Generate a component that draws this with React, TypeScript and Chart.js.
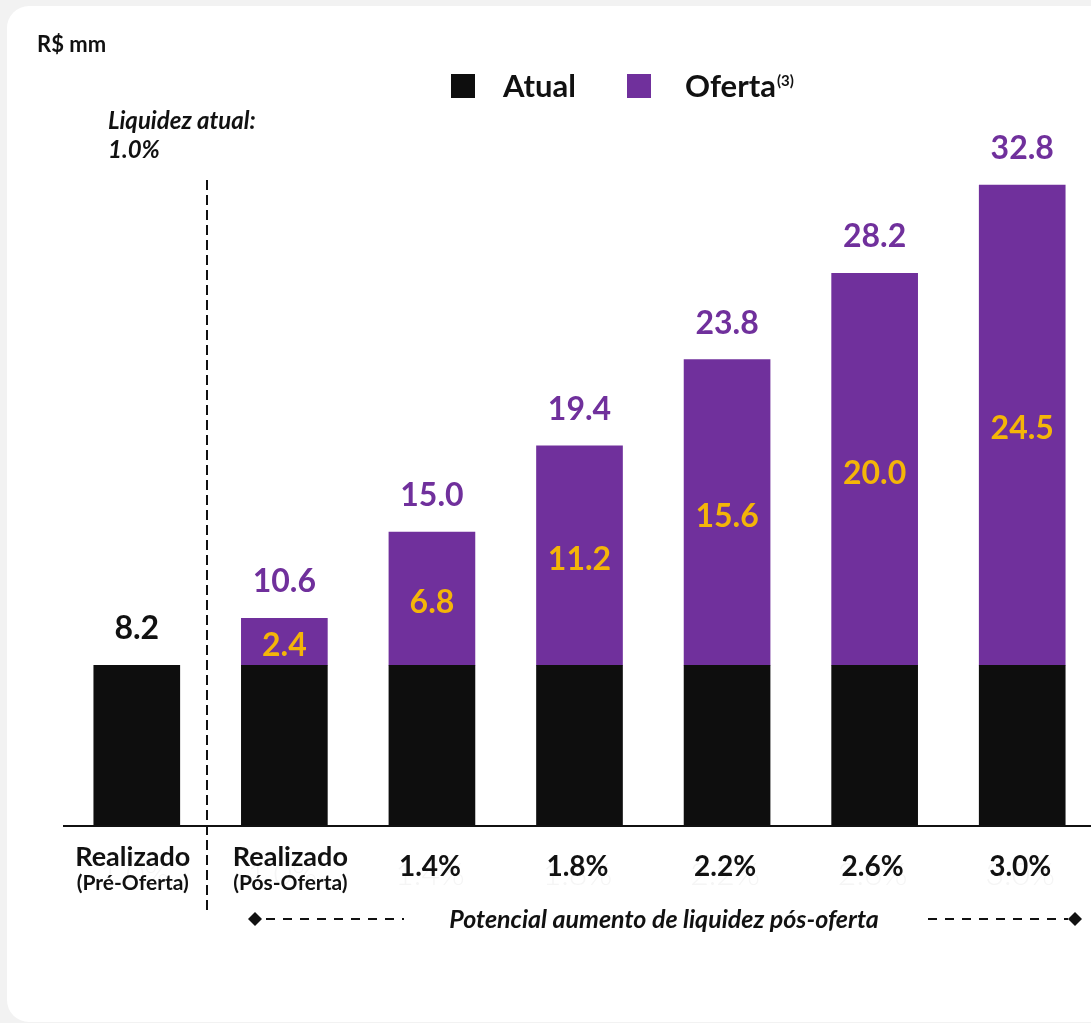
import React, { useEffect, useRef } from "react";
import { Chart, registerables } from "chart.js";

Chart.register(...registerables);

const categories = ["Realizado|(Pré-Oferta)", "Realizado|(Pós-Oferta)", "1.4%", "1.8%", "2.2%", "2.6%", "3.0%"];
const ghostLabels = ["1.0%", "1.0%", "1.4%", "1.8%", "2.2%", "2.6%", "3.0%"];
const atualValues = [8.2, 8.2, 8.2, 8.2, 8.2, 8.2, 8.2];
const ofertaValues: (number | null)[] = [null, 2.4, 6.8, 11.2, 15.6, 20.0, 24.5];
const totalLabels = ["8.2", "10.6", "15.0", "19.4", "23.8", "28.2", "32.8"];
const ofertaLabels = ["", "2.4", "6.8", "11.2", "15.6", "20.0", "24.5"];

const BLACK = "#0e0e0e";
const PURPLE = "#70309c";
const GOLD = "#f4b508";
const FONT = "Lato, 'Open Sans', sans-serif";

const W = 1120;
const H = 1023;

export default function App() {
  const ref = useRef<HTMLCanvasElement | null>(null);

  useEffect(() => {
    if (!ref.current) return;
    const overlay = {
      id: "overlay",
      afterDatasetsDraw(chart: any) {
        const { ctx, scales } = chart;
        const xs = scales.x;
        const ys = scales.y;
        const base = ys.getPixelForValue(0);
        ctx.save();
        // axis line
        ctx.fillStyle = "#111";
        ctx.fillRect(63, base - 1, W, 2);

        // dashed vertical separator
        const sepX = Math.round((xs.getPixelForValue(0) + xs.getPixelForValue(1)) / 2 - 4);
        ctx.strokeStyle = "#111";
        ctx.lineWidth = 2;
        ctx.setLineDash([10, 5]);
        ctx.beginPath();
        ctx.moveTo(sepX, 180);
        ctx.lineTo(sepX, 915);
        ctx.stroke();
        ctx.setLineDash([]);

        // ghost labels
        ctx.fillStyle = "#f5f5f5";
        ctx.font = `300 32px ${FONT}`;
        ctx.textAlign = "center";
        ctx.textBaseline = "alphabetic";
        ghostLabels.forEach((t, i) => {
          ctx.fillText(t, xs.getPixelForValue(i) - 2, 885);
        });

        // x labels
        ctx.fillStyle = "#111";
        categories.forEach((c, i) => {
          const cx = xs.getPixelForValue(i);
          const parts = c.split("|");
          if (parts.length === 2) {
            const off = i === 0 ? -4 : 6;
            ctx.font = `bold 27px ${FONT}`;
            ctx.fillText(parts[0], cx + off, 866);
            ctx.font = `bold 21px ${FONT}`;
            ctx.fillText(parts[1], cx + off, 890);
          } else {
            ctx.font = `bold 28px ${FONT}`;
            ctx.fillText(parts[0], cx - 2, 876);
          }
        });

        // value labels
        const metaA = chart.getDatasetMeta(0);
        const metaO = chart.getDatasetMeta(1);
        ctx.font = `bold 32px ${FONT}`;
        totalLabels.forEach((t, i) => {
          const hasO = ofertaValues[i] != null;
          const el = hasO ? metaO.data[i] : metaA.data[i];
          ctx.fillStyle = hasO ? PURPLE : "#111";
          ctx.textBaseline = "alphabetic";
          ctx.fillText(t, el.x, el.y - 26);
        });
        ctx.fillStyle = GOLD;
        ctx.textBaseline = "middle";
        ofertaLabels.forEach((t, i) => {
          if (!t) return;
          const el = metaO.data[i];
          ctx.fillText(t, el.x, (el.y + el.base) / 2 + 4);
        });

        // legend
        ctx.textBaseline = "alphabetic";
        ctx.textAlign = "left";
        ctx.fillStyle = BLACK;
        ctx.fillRect(451, 74, 24, 24);
        ctx.fillStyle = PURPLE;
        ctx.fillRect(627, 74, 24, 24);
        ctx.fillStyle = "#111";
        ctx.font = `bold 31px ${FONT}`;
        ctx.fillText("Atual", 503, 97);
        ctx.fillText("Oferta", 685, 97);
        const ow = ctx.measureText("Oferta").width;
        ctx.font = `bold 15px ${FONT}`;
        ctx.fillText("(3)", 685 + ow + 1, 86);

        // unit
        ctx.font = `bold 22px ${FONT}`;
        ctx.fillText("R$ mm", 37, 52);

        // liquidez atual
        ctx.font = `italic bold 24px ${FONT}`;
        ctx.fillText("Liquidez atual:", 108, 129);
        ctx.fillText("1.0%", 108, 158);

        // bottom annotation
        const ay = 919;
        const diamond = (dx: number) => {
          ctx.beginPath();
          ctx.moveTo(dx, ay - 7);
          ctx.lineTo(dx + 7, ay);
          ctx.lineTo(dx, ay + 7);
          ctx.lineTo(dx - 7, ay);
          ctx.closePath();
          ctx.fill();
        };
        diamond(255);
        diamond(1075);
        ctx.setLineDash([9, 8]);
        ctx.beginPath();
        ctx.moveTo(266, ay);
        ctx.lineTo(404, ay);
        ctx.moveTo(928, ay);
        ctx.lineTo(1068, ay);
        ctx.stroke();
        ctx.setLineDash([]);
        ctx.font = `italic bold 25px ${FONT}`;
        ctx.textAlign = "center";
        ctx.fillText("Potencial aumento de liquidez pós-oferta", 664, 928);
        ctx.restore();
      },
    };

    const chart = new Chart(ref.current, {
      type: "bar",
      data: {
        labels: categories,
        datasets: [
          {
            label: "Atual",
            data: atualValues,
            backgroundColor: BLACK,
            barThickness: 86,
            borderWidth: 0,
          },
          {
            label: "Oferta",
            data: ofertaValues,
            backgroundColor: PURPLE,
            barThickness: 86,
            borderWidth: 0,
          },
        ],
      },
      options: {
        responsive: false,
        animation: false,
        devicePixelRatio: 1,
        layout: { padding: { left: 63, right: 24, top: 42, bottom: 197 } },
        plugins: { legend: { display: false }, tooltip: { enabled: false } },
        scales: {
          x: { display: false, stacked: true, offset: true },
          y: { display: false, stacked: true, min: 0, max: 40 },
        },
      },
      plugins: [overlay],
    });
    return () => chart.destroy();
  }, []);

  return (
    <div style={{ position: "absolute", left: 0, top: 0, width: 1091, height: 1023, overflow: "hidden", background: "#f2f2f2" }}>
      <div style={{ position: "absolute", left: 7, top: 6, width: 1150, height: 1016, background: "#fff", borderRadius: 22 }} />
      <canvas ref={ref} width={W} height={H} style={{ position: "absolute", left: 0, top: 0 }} />
    </div>
  );
}
